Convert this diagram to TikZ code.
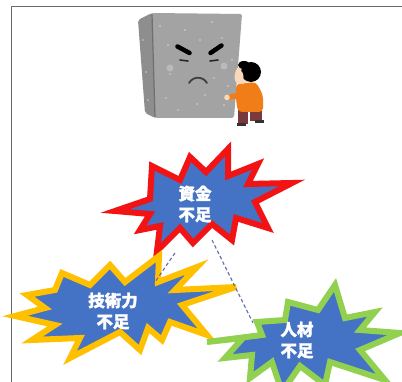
\documentclass[tikz,border=0pt]{standalone}
\usepackage{fontspec}
\newfontfamily\jp{Noto Sans CJK JP}[BoldFeatures={FakeBold=1.5}]
\definecolor{framegray}{HTML}{6A6A6A}
\definecolor{starblue}{HTML}{4472C4}
\definecolor{starred}{HTML}{F21414}
\definecolor{staryellow}{HTML}{FFC000}
\definecolor{stargreen}{HTML}{92D050}
\definecolor{wallfront}{HTML}{A3A3A3}
\definecolor{wallside}{HTML}{8E8E8E}
\definecolor{walledge}{HTML}{6F6F6F}
\definecolor{shirt}{HTML}{F07D18}
\definecolor{pants}{HTML}{7A3A3C}
\definecolor{skin}{HTML}{FAD7B8}
\definecolor{dashblue}{HTML}{5E6EA8}
\tikzset{
  burst/.style={fill=starblue, line width=6pt, line join=miter, miter limit=5},
  burstlabel/.style={text=white, font=\jp\bfseries\fontsize{16.5}{21}\selectfont, align=center, inner sep=0pt},
  linkline/.style={draw=dashblue, line width=1.1pt, dash pattern=on 3.5pt off 2.5pt},
  speck/.style={fill=white, fill opacity=0.55},
}
\begin{document}
\begin{tikzpicture}[x=1pt,y=-1pt]
\fill[white] (0,0) rectangle (402,382);
\useasboundingbox (0,0) rectangle (402,382);

% frame
\draw[framegray, line width=1.6pt] (11.5,382) -- (11.5,6.5) -- (402,6.5);

% --- the wall with an angry face ---
\fill[wallside, rounded corners=2pt] (138,20) -- (152,13) -- (155,118) -- (145,113) -- cycle;
\fill[wallfront, rounded corners=2pt] (152,13) -- (242,14) -- (234,118) -- (155,118) -- cycle;
\draw[walledge, line width=1.2pt] (152,13.5) -- (155,117.5);
\foreach \p in {(160,26),(212,22),(222,38),(168,45),(232,60),(200,40),(170,74),(214,78),(228,86),(166,98),(197,104),(224,105),(143,40),(146,72),(148,100),(185,30),(205,95),(178,110)}
  \fill[speck] \p circle (0.9pt);
\fill[white, fill opacity=0.25] (170,68) circle (3.5pt);
\fill[white, fill opacity=0.25] (224,66) circle (3.5pt);
\draw[black, line width=4.5pt, line cap=round] (177.5,46.5) -- (189.5,53);
\draw[black, line width=4.5pt, line cap=round] (210.5,53) -- (221.5,45.5);
\draw[black!85, line width=1.6pt, line cap=round] (180,60) -- (188,61);
\draw[black!85, line width=1.6pt, line cap=round] (210,61) -- (218,60);
\draw[black!75, line width=1.8pt, line cap=round] (189,83) .. controls (193,76) and (203,76) .. (207,83);

% --- the boy pushing ---
\fill[pants] (238,109) rectangle (248,124);
\fill[pants] (250,109) rectangle (262,121);
\fill[black!80] (237,123) rectangle (246,126);
\fill[black!80] (255,120) rectangle (264,123);
\fill[shirt, rounded corners=4pt] (236,84) -- (256,82) -- (263,95) -- (263,112) -- (238,112) -- (236,100) -- cycle;
\fill[shirt, rounded corners=2pt] (240,92) -- (228,95) -- (228,100) -- (242,98) -- cycle;
\fill[skin] (227,97.5) circle (2.8pt);
\fill[skin] (242,75) ellipse (7pt and 9pt);
\fill[black] (251,72) ellipse (10pt and 10pt);
\fill[black] (244,65) ellipse (6pt and 4pt);
\fill[skin] (239,77) ellipse (4.5pt and 7pt);

% --- bursts ---
\draw[burst, draw=starred]
  (115,211) -- (150,199) -- (152,166) -- (180,180) -- (190,157) -- (206,172) --
  (228,149) -- (228,176) -- (258,164) -- (248,184) -- (292,183) -- (255,202) --
  (268,228) -- (236,218) -- (232,240) -- (212,224) -- (193,243) -- (180,228) --
  (157,251) -- (160,226) -- (140,230) -- (150,214) -- cycle;
\node[burstlabel] (fund) at (195,204) {資金\\不足};

\draw[burst, draw=staryellow]
  (15,316) -- (45,308) -- (27,295) -- (55,290) -- (62,273) -- (90,285) --
  (110,265) -- (125,282) -- (159,256) -- (158,282) -- (197,267) -- (175,290) --
  (236,287) -- (182,305) -- (207,335) -- (170,322) -- (162,340) -- (148,328) --
  (140,350) -- (120,332) -- (70,358) -- (80,338) -- (32,340) -- (55,325) -- cycle;
\node[burstlabel] (tech) at (113,311) {技術力\\不足};

\draw[burst, draw=stargreen]
  (207,342) -- (243,338) -- (225,358) -- (252,355) -- (250,378) -- (272,362) --
  (282,392) -- (300,366) -- (325,385) -- (330,362) -- (385,380) -- (360,350) --
  (400,333) -- (360,330) -- (375,312) -- (345,318) -- (335,285) -- (318,310) --
  (288,302) -- (285,320) -- (257,322) -- (262,335) -- cycle;
\node[burstlabel] (staff) at (297,340) {人材\\不足};

% --- dashed links between the bursts ---
\coordinate (fundA) at (175,253);
\coordinate (techA) at (155,282);
\coordinate (fundB) at (212,240);
\coordinate (staffA) at (253,323);
\draw[linkline] (fundA) -- (techA);
\draw[linkline] (fundB) -- (staffA);
\end{tikzpicture}
\end{document}
